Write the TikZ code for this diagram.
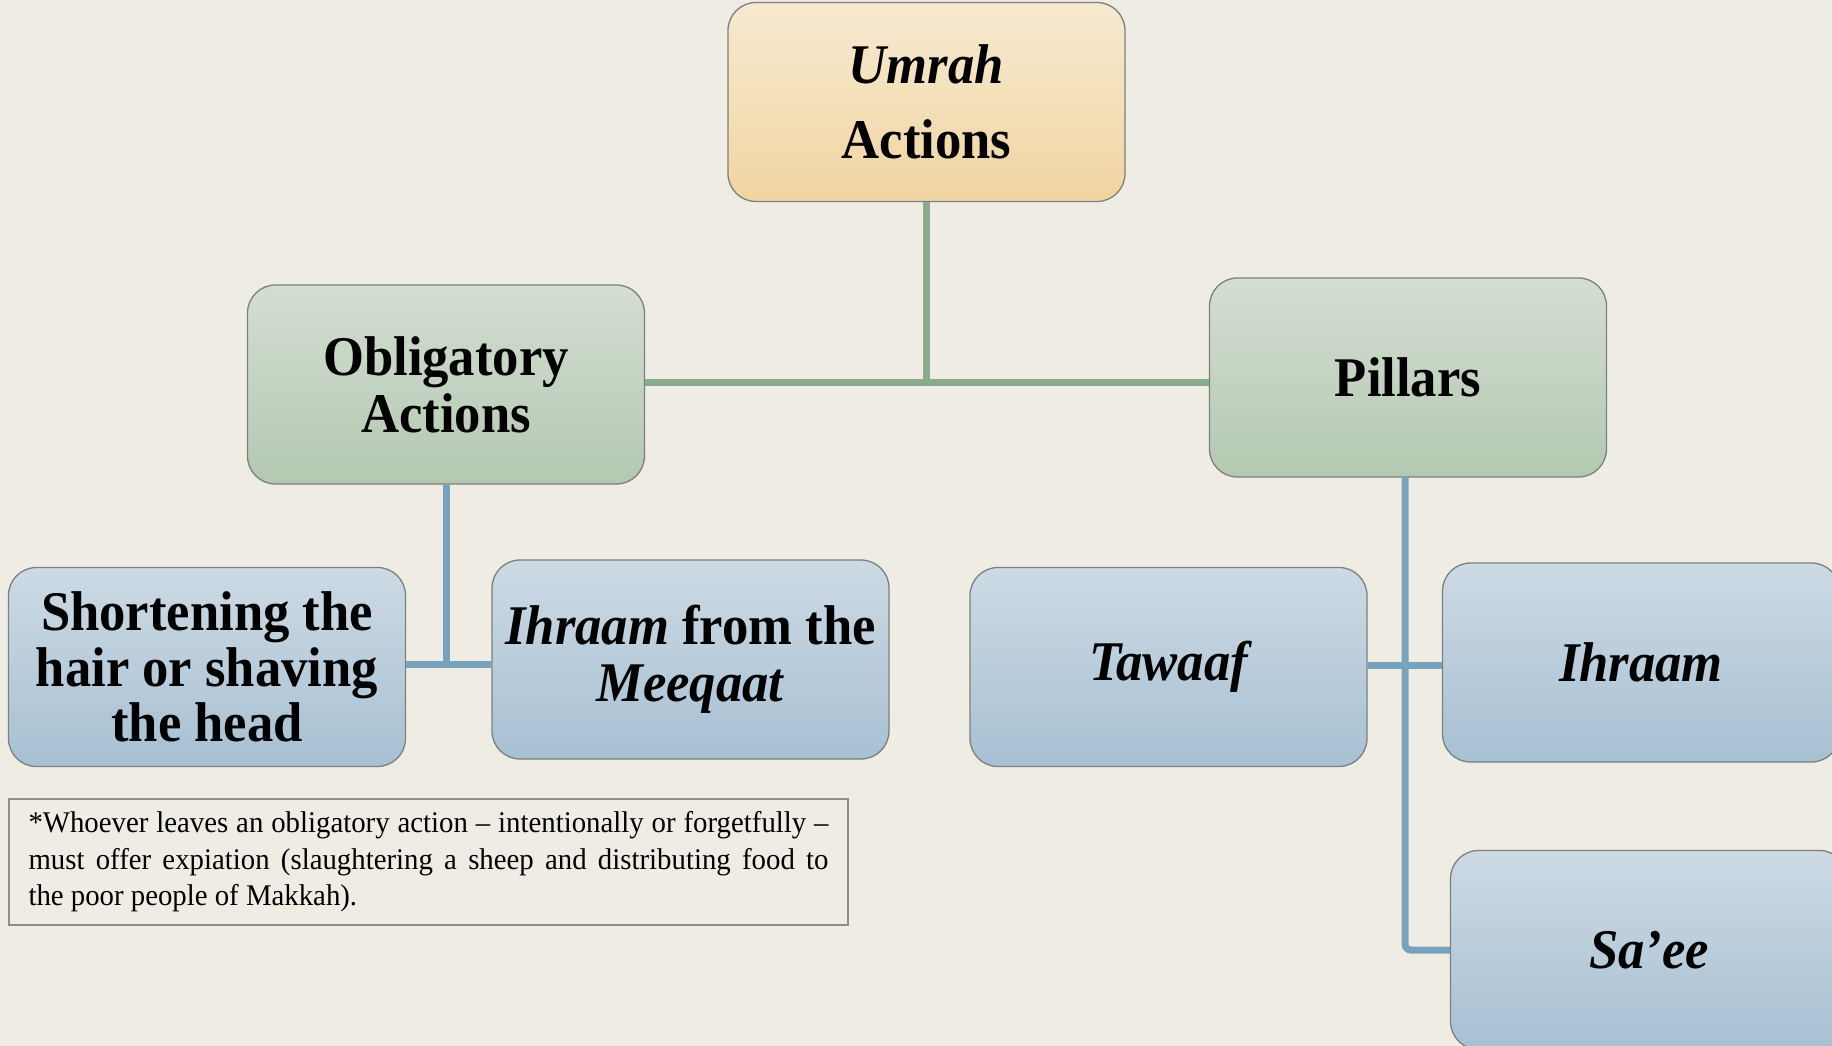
\documentclass[tikz,border=0pt]{standalone}
\usepackage{fontspec}
\setmainfont{Liberation Serif}
\newfontfamily\boxfont{Liberation Serif}[FakeStretch=0.94]
\newfontfamily\notefont{Liberation Serif}[FakeStretch=0.96]
\definecolor{bg}{HTML}{EFECE4}
\definecolor{goldtop}{HTML}{F7E9D1}
\definecolor{goldbot}{HTML}{F1D5A1}
\definecolor{greentop}{HTML}{D4DED2}
\definecolor{greenbot}{HTML}{B3C8B1}
\definecolor{bluetop}{HTML}{CDDAE4}
\definecolor{bluebot}{HTML}{A7C0D3}
\definecolor{boxline}{HTML}{7C8080}
\definecolor{gline}{HTML}{8BAA8C}
\definecolor{bline}{HTML}{77A3BF}
\definecolor{noteline}{HTML}{8E8E8E}
\tikzset{
  box/.style={draw=boxline, line width=1.3pt, rounded corners=28pt,
    minimum width=397pt, minimum height=199pt, inner sep=0pt, align=center,
    font=\boxfont\bfseries\fontsize{56}{57}\selectfont},
  goldbox/.style={box, top color=goldtop, bottom color=goldbot},
  greenbox/.style={box, top color=greentop, bottom color=greenbot},
  bluebox/.style={box, top color=bluetop, bottom color=bluebot},
  gconn/.style={draw=gline, line width=7pt},
  bconn/.style={draw=bline, line width=7pt},
  notebox/.style={draw=noteline, line width=2pt, minimum width=839pt,
    minimum height=126pt, inner xsep=19pt, inner ysep=0pt, align=left,
    font=\notefont\fontsize{30}{36.5}\selectfont}
}
\begin{document}
\begin{tikzpicture}[x=1pt,y=-1pt]
\useasboundingbox (0,0) rectangle (1832,1046);
\clip (0,0) rectangle (1832,1046);
\fill[bg] (0,0) rectangle (1832,1046);

\node[goldbox, font=\boxfont\bfseries\fontsize{56}{75}\selectfont] (umrah) at (926.5,102) {\itshape Umrah\\Actions};
\node[greenbox] (oblig) at (446,384.5) {Obligatory\\Actions};
\node[greenbox] (pillars) at (1408,377.5) {Pillars};

\node[bluebox, font=\boxfont\bfseries\fontsize{56}{55.5}\selectfont] (shorten) at (207,667) {Shortening the\\hair or shaving\\the head};
\node[bluebox] (meeqaat) at (690.5,659.5) {\textit{Ihraam} from the\\\textit{Meeqaat}};
\node[bluebox] (tawaaf) at (1168.5,667) {\itshape Tawaaf};
\node[bluebox] (ihraam) at (1641,662.5) {\itshape Ihraam};
\node[bluebox] (saee) at (1649,950) {\itshape Sa’ee};

\coordinate (j1) at (926.5,382);
\coordinate (j2) at (446,664);
\coordinate (j3) at (1405,665);

\draw[gconn] (umrah.south) -- (j1);
\draw[gconn] (j1 -| oblig.east) -- (j1 -| pillars.west);
\draw[bconn] (oblig.south) -- (j2);
\draw[bconn] (j2 -| shorten.east) -- (j2 -| meeqaat.west);
\draw[bconn] (j3 -| tawaaf.east) -- (j3 -| ihraam.west);
\draw[bconn, rounded corners=6pt] (pillars.south -| j3) -- (j3 |- saee.west) -- (saee.west);

\node[notebox] (note) at (428.5,862) {%
\makebox[800pt][s]{*Whoever leaves an obligatory action – intentionally or forgetfully –}\\
\makebox[800pt][s]{must offer expiation (slaughtering a sheep and distributing food to}\\
the poor people of Makkah).};
\end{tikzpicture}
\end{document}
